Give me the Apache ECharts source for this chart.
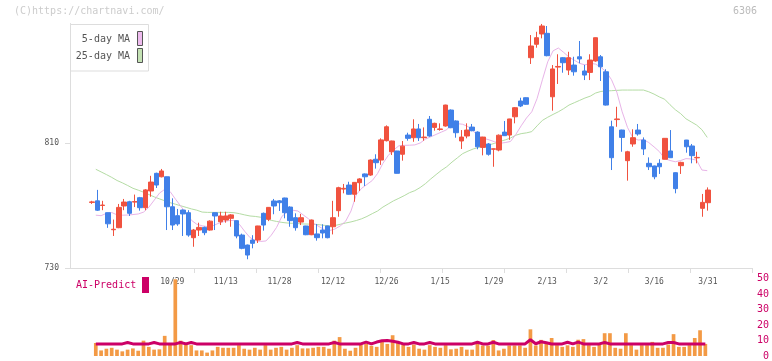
<!DOCTYPE html>
<html><head><meta charset="utf-8">
<script src="https://cdn.jsdelivr.net/npm/echarts@6/dist/echarts.min.js"></script>
<style>html,body{margin:0;padding:0;background:#fff}#c{width:772px;height:361px}</style>
</head><body><div id="c"></div>
<script>
// ---- categories (trading days) ----
const dates = ['10/7','10/8','10/9','10/10','10/14','10/15','10/16','10/17','10/20','10/21','10/22','10/23','10/24','10/27','10/28','10/29','10/30','10/31',
'11/4','11/5','11/6','11/7','11/10','11/11','11/12','11/13','11/14','11/17','11/18','11/19','11/20','11/21','11/25','11/26','11/27','11/28',
'12/1','12/2','12/3','12/4','12/5','12/8','12/9','12/10','12/11','12/12','12/15','12/16','12/17','12/18','12/19','12/22','12/23','12/24','12/25','12/26','12/29','12/30',
'1/5','1/6','1/7','1/8','1/9','1/13','1/14','1/15','1/16','1/19','1/20','1/21','1/22','1/23','1/26','1/27','1/28','1/29','1/30',
'2/2','2/3','2/4','2/5','2/6','2/9','2/10','2/12','2/13','2/16','2/17','2/18','2/19','2/20','2/24','2/25','2/26','2/27',
'3/2','3/3','3/4','3/5','3/6','3/9','3/10','3/11','3/12','3/13','3/16','3/17','3/18','3/19','3/23','3/24','3/25','3/26','3/27','3/30','3/31'];

// ---- prices ----
const open = [772,773,770,765.4,754.5,755.8,769.7,772.4,772.2,775,768.6,779.3,790.6,788.4,788.4,769.2,763.5,767.1,765.4,749.4,
754.3,756,754.3,765.4,759.6,760.7,761.8,760.3,751.1,744.7,747.9,747.9,765,761.2,772.9,773,774.8,769,762.2,759.4,
756.9,751.3,751.8,754.3,756.9,756.4,766.7,780.5,783.1,777.2,784.6,790.2,789.5,799.6,799.1,811.5,804.4,804.9,802.8,815.1,
813.4,819,813.4,825.2,820,818.7,820.9,831.1,824.1,811.3,814.5,820.2,817,807.2,809.4,806,805.5,817,815.1,826.8,
836.9,839,864.6,873.2,879.8,880.2,839.6,858.6,864.6,856.7,859.9,865.2,856.1,855.2,862.5,865.2,855.6,820.4,825,818.3,
798.7,809.4,818.3,811.9,797,795.3,797,799.6,804.9,791,795.5,811.9,808.1,800.5,768.2,771.8];
const high = [773,780,773,765.5,761,771,774.2,773,777,775.5,780.5,789,791,793.4,788.5,774.6,767.8,767.5,767,755,
759,756.5,760.5,765.5,766,766,764.5,760.5,752,745,751,757,765.5,769,774.2,773.5,775,769.5,765,764.6,
757,761,758.2,758,757,773,782,783.8,785.2,785,787.5,790.5,799.5,802.8,813,821.3,811.5,805,811.3,816.6,
825.2,822.2,820,827.3,823,822.6,834.5,831.5,824.5,818.3,822.6,822.2,817.5,814,810,806.5,815.5,824.1,825.5,833,
839,839.2,879.1,881.2,886.2,884.9,859.9,866.8,865,868.4,865.2,875.3,860,866.8,877.5,866.3,857.2,824.3,833.2,818.5,
805,818.8,822.2,813.6,800.8,795.5,799.6,813.2,818.3,791.2,798,812,809.4,804.4,777.4,781.6];
const low = [771,766.5,767,755.7,750.5,755.5,767,763.3,769,766.7,767,775.6,781.2,788,754.3,754.3,757,750.5,750,743.6,
750.5,751,753.9,754.3,757.5,759,756.4,749,742,735.6,742.6,746,753.9,760,764.4,766.5,761.8,756.4,753.9,757.5,
751,751,747.5,749,749,751.5,762.8,777.8,777,772.4,779.3,782.5,789,793.6,796,811,802.3,790.5,798.7,811.5,
810.8,811.3,811.5,814,817.9,817.9,820.5,819.5,813.4,806.2,813,817.5,806,802.1,801.9,794.8,804.7,814.5,812,822.6,
833,834.5,860.6,871,877,865.5,830.7,847.8,855,853.5,853.1,861,850.3,850.3,862,849.7,834,792.7,820.4,804.4,
785.9,807.6,814.7,802.3,792.7,786.8,790.2,799.5,800.5,777.8,790.2,803.8,797,797,762.8,766.7];
const close = [772.3,767,770.3,758.3,754.8,768.8,772.2,765,772.5,768.6,780,785,783.1,792.1,769.2,757.5,758.2,764.6,751.1,754.3,
756,752.6,760,763.3,763.3,763.3,764,750.5,742.6,738.3,745.8,756.9,757.5,768.8,769.7,771.8,765.4,760.3,755.8,762.2,
751.3,760.7,749.4,752.4,749.4,762.2,781.4,781,777.2,784.8,787,788.4,799.1,797.4,812,820.4,811.3,790.6,808,813,
819,813.4,813.8,814.5,822.6,819,834.3,819.8,816.6,813.8,818.3,817.9,807.6,813.8,802.8,806.3,815,814.7,825.4,832.6,
833.7,834.8,872.1,877.4,884.9,865.9,857.4,859,861.4,864.6,855.6,863.8,853.5,863.1,877.4,858.8,834.3,800.6,825.4,813.6,
804.4,813.4,815.8,806.2,794.8,788.4,794.8,813,800.6,780.8,797.6,807.6,801.9,800.8,772,779.9];

// ---- moving averages ----
const ma5 = [763.8,763.5,765,765.5,764,763.8,763.9,764.2,764.6,765.8,
769,773.5,778,780.4,778.8,774,769.5,765,760.5,758,
757,756.5,757,758.5,759.6,760.3,760.5,758,753.5,749.5,
747.5,747,747.3,751,756,763,766,767,766.5,764,
761.5,758.5,756.5,754.5,754,755,757,760,766.5,777,
781,783.5,786,790.5,797,802,805.5,808.2,808.5,808.6,
808.8,810,812.5,814,815.5,817,818.5,822.5,822.4,822,
820.5,817.5,814.5,813,812,810.8,809.8,810.3,811,815.5,
821,826,830,838.5,850.5,862,869,870.8,868,865,
863,861,860,861,860.5,858.5,855.5,850.5,842.5,830,
820,813.5,811.9,812.2,810.3,807.5,804.5,800,798.8,798,
798.8,800,799.8,799,792.7,792.3];
const ma25 = [793.2,791.5,789.8,788,786,784.5,782.8,781,779.8,778.5,
777,775.5,774.2,773,771.8,770.8,769.8,768.8,767.8,767,
765.8,765.6,765.6,765.6,765.6,765.6,765.4,764.8,764,763.3,
763,762.5,761.5,760.5,759.8,759.2,758.8,758.6,758.4,758.2,
758.1,758,757.7,757.3,757,757.2,758,758.8,759.5,760.4,
761.5,763,764.8,766.5,769,771,773,774.6,776.3,778.2,
779.5,781.5,784,787,789.8,792.5,794.8,797.8,800.5,803.2,
804.8,806.2,807.2,808,808.8,809.8,811,812,813.2,815,
816,816.5,817.3,821,824.5,826.5,828.3,830,832,834.3,
835.8,837.3,838.8,840,842,843,843.3,843.5,843.7,843.9,
843.9,843.9,843.9,843.9,842.8,841.3,839.5,838,834.5,831.3,
828.8,825.5,823.5,821.5,818.5,813.6];

// ---- volume and AI-Predict ----
const volume = [8.4,3.6,4.7,5.3,4.1,3.0,4.1,4.9,3.4,9.9,
5.9,4.1,4.3,13,7.5,49.5,9.9,8.6,7.0,3.6,
3.6,2.2,3.6,5.9,5.3,5.3,5.3,7.0,4.7,4.1,
5.3,4.1,7.0,4.1,5.3,5.9,4.1,5.3,7.0,4.9,
4.9,5.3,5.9,5.9,4.7,9.9,12.2,4.7,3.4,5.3,
7.4,7.8,6.6,5.9,9.1,7.8,13.4,9.1,7.4,5.9,
7.4,4.7,4.1,7.0,5.9,5.3,7.0,4.3,4.7,5.9,
4.1,4.1,8.9,6.8,6.8,10.3,3.6,4.7,6.8,6.8,
6.8,5.3,17.2,6.8,10.4,8.9,11.6,7,5.9,6.9,
5.9,10.5,10.9,7.0,5.9,7.4,14.7,14.7,5.3,4.7,
14.7,7.0,4.1,7.0,7.0,9.1,5.3,5.3,7.4,14.1,
5.9,5.9,7.0,11.6,16.6,7.8];
const aiPredict = [7.8,7.8,7.8,7.8,7.8,7.8,8.7,7.8,7.8,7.8,
7.8,8.7,7.8,7.8,7.8,7.8,8.7,7.8,8.7,7.8,
7.8,7.8,7.8,7.8,7.8,7.8,7.8,7.8,7.8,7.8,
7.8,7.8,7.8,7.8,7.8,7.8,7.8,7.8,8.7,7.8,
7.8,7.8,7.8,7.8,7.8,8.7,7.8,7.8,7.8,7.8,
7.8,9,7.8,9,9.8,10,9.5,8.9,7.8,7.8,
8.7,7.8,7.8,8.7,7.8,7.8,7.8,7.8,7.8,7.8,
7.8,7.8,8.9,7.8,7.8,8.9,7.8,7.8,7.8,7.8,
7.8,7.8,10.5,7.9,9.2,8.5,7.8,7.8,7.8,8.9,
7.8,9,7.8,7.8,7.8,7.8,8.7,7.8,7.8,7.8,
7.8,7.8,7.8,7.8,7.8,7.8,7.8,7.8,8.7,8.7,
7.8,7.8,7.8,7.8,7.8,7.8];

// ---- axis ticks ----
const priceTicks = [730, 810];
const frameTicks = [2,3,4,5,6,7,8,9,10,11];
const labelEvery = 10, labelStart = 15;

const MONO = '"DejaVu Sans Mono", "Liberation Mono", monospace';
const RED = '#f0523f', BLUE = '#4080e8';
const candles = dates.map((d, i) => [open[i], close[i], low[i], high[i]]);

const chart = echarts.init(document.getElementById('c'), null, {renderer: 'canvas'});
const P_MIN = 730, P_MAX = 886.5;
chart.setOption({
  animation: false,
  backgroundColor: '#fff',
  grid: [
    {left: 70, right: 20, top: 23.5, bottom: 93},           // frame
    {left: 89.32, right: 61.5, top: 23.5, bottom: 93},      // candles
    {left: 93.14, right: 62.1, top: 23.5, bottom: 93},      // MA lines
    {left: 93.14, right: 62.1, top: 278.5, bottom: 2.5}     // volume
  ],
  xAxis: [
    {gridIndex: 0, type: 'value', min: 0, max: 11,
     axisLine: {show: true, onZero: false, lineStyle: {color: '#dddddd'}},
     axisTick: {show: true, length: 5, customValues: frameTicks, lineStyle: {color: '#dddddd'}},
     axisLabel: {show: false}, splitLine: {show: false}},
    {gridIndex: 1, type: 'category', data: dates, boundaryGap: true,
     axisLine: {show: false}, axisTick: {show: false}, splitLine: {show: false},
     axisLabel: {show: true, color: '#555', fontSize: 8, fontFamily: MONO, margin: 10,
       interval: (idx) => idx >= labelStart && (idx - labelStart) % labelEvery === 0}},
    {gridIndex: 2, type: 'category', data: dates, boundaryGap: true, show: false},
    {gridIndex: 3, type: 'category', data: dates, boundaryGap: true, show: false}
  ],
  yAxis: [
    {gridIndex: 0, type: 'value', min: P_MIN, max: P_MAX,
     axisLine: {show: true, onZero: false, lineStyle: {color: '#dddddd'}},
     axisTick: {show: true, length: 5, customValues: priceTicks, lineStyle: {color: '#dddddd'}},
     axisLabel: {show: true, customValues: priceTicks, color: '#555', fontSize: 8, fontFamily: MONO, margin: 11},
     splitLine: {show: false}},
    {gridIndex: 1, type: 'value', min: P_MIN, max: P_MAX, show: false},
    {gridIndex: 2, type: 'value', min: P_MIN, max: P_MAX, show: false},
    {gridIndex: 3, type: 'value', min: 0, max: 50, interval: 10, position: 'right', offset: 61,
     axisLine: {show: false}, axisTick: {show: false}, splitLine: {show: false},
     axisLabel: {color: '#cc0066', fontSize: 10, fontFamily: MONO, align: 'right', margin: 0}}
  ],
  series: [
    {name: '25-day MA', type: 'line', xAxisIndex: 2, yAxisIndex: 2, data: ma25, symbol: 'none',
     lineStyle: {color: '#b4dca4', width: 1}, z: 1, silent: true},
    {name: '5-day MA', type: 'line', xAxisIndex: 2, yAxisIndex: 2, data: ma5, symbol: 'none',
     lineStyle: {color: '#e8b4e8', width: 1}, z: 1, silent: true},
    {name: '6306', type: 'candlestick', xAxisIndex: 1, yAxisIndex: 1, data: candles, barWidth: 5, z: 3,
     itemStyle: {color: RED, color0: BLUE, borderColor: RED, borderColor0: BLUE, borderWidth: 1}},
    {name: 'Volume', type: 'bar', xAxisIndex: 3, yAxisIndex: 3, data: volume, barWidth: 3.7,
     itemStyle: {color: '#f39a45'}, z: 1},
    {name: 'AI-Predict', type: 'line', xAxisIndex: 3, yAxisIndex: 3, data: aiPredict, symbol: 'none',
     lineStyle: {color: '#cc0066', width: 3}, z: 2}
  ],
  graphic: [
    {type: 'text', left: 14, top: 6, z: 100,
     style: {text: '(C)https://chartnavi.com/', fill: '#cccccc', font: '10px ' + MONO}},
    {type: 'text', right: 15, top: 6, z: 100,
     style: {text: '6306', fill: '#bbbbbb', font: '10px ' + MONO}},
    {type: 'rect', z: 100, shape: {x: 70.5, y: 24.5, width: 78, height: 46.5},
     style: {fill: '#fff', stroke: '#dddddd', lineWidth: 1}},
    {type: 'text', z: 101, x: 130, y: 39,
     style: {text: '5-day MA', fill: '#555', font: '10px ' + MONO, align: 'right', verticalAlign: 'middle'}},
    {type: 'rect', z: 101, shape: {x: 137.5, y: 31.5, width: 5, height: 14},
     style: {fill: '#eebbee', stroke: '#555', lineWidth: 1}},
    {type: 'text', z: 101, x: 130, y: 56,
     style: {text: '25-day MA', fill: '#555', font: '10px ' + MONO, align: 'right', verticalAlign: 'middle'}},
    {type: 'rect', z: 101, shape: {x: 137.5, y: 48.5, width: 5, height: 14},
     style: {fill: '#c4e2b4', stroke: '#555', lineWidth: 1}},
    {type: 'text', z: 101, x: 76, y: 285,
     style: {text: 'AI-Predict', fill: '#cc0066', font: '10px ' + MONO, verticalAlign: 'middle'}},
    {type: 'rect', z: 101, shape: {x: 142, y: 277, width: 7, height: 16},
     style: {fill: '#cc0066'}}
  ]
});
</script>
</body></html>
